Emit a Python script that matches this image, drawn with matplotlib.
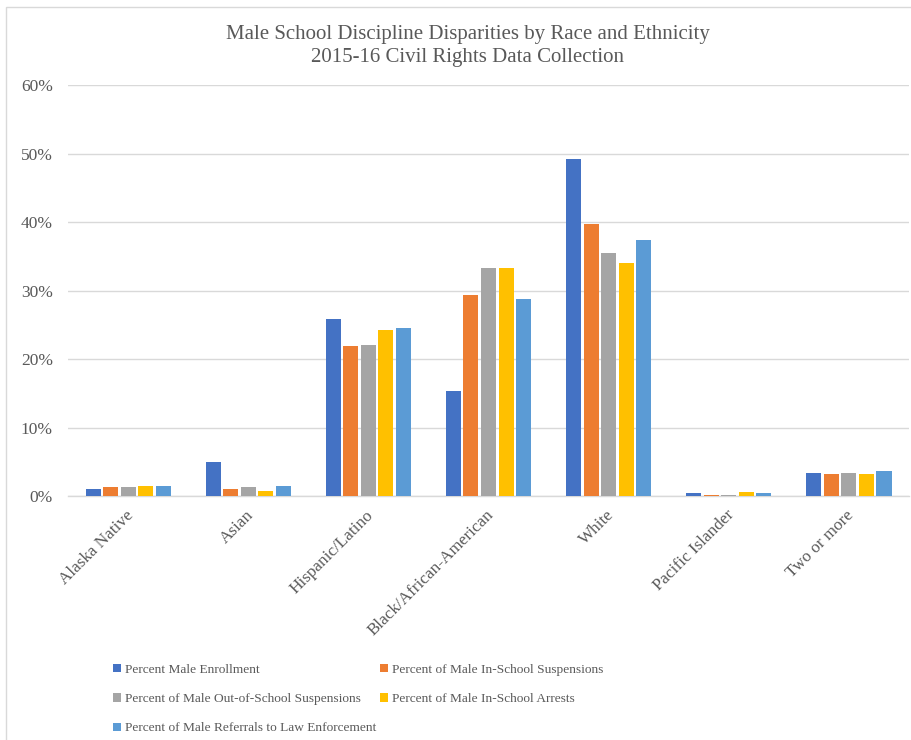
import matplotlib.pyplot as plt
from matplotlib.patches import Rectangle
from matplotlib.ticker import PercentFormatter
from matplotlib.transforms import ScaledTranslation
import numpy as np

# Dados (em %)
categories = ['Alaska Native', 'Asian', 'Hispanic/Latino', 'Black/African-American',
              'White', 'Pacific Islander', 'Two or more']
enrollment = [1.0, 4.9, 25.8, 15.4, 49.2, 0.4, 3.4]
in_school_susp = [1.3, 1.0, 21.9, 29.4, 39.8, 0.2, 3.2]
out_school_susp = [1.3, 1.3, 22.1, 33.3, 35.5, 0.2, 3.4]
arrests = [1.5, 0.8, 24.2, 33.3, 34.0, 0.6, 3.2]
referrals = [1.5, 1.5, 24.5, 28.8, 37.4, 0.4, 3.6]

series_names = ['Percent Male Enrollment',
                'Percent of Male In-School Suspensions',
                'Percent of Male Out-of-School Suspensions',
                'Percent of Male In-School Arrests',
                'Percent of Male Referrals to Law Enforcement']
colors = ['#4472C4', '#ED7D31', '#A5A5A5', '#FFC000', '#5B9BD5']

plt.rcParams['font.family'] = ['Liberation Serif', 'DejaVu Serif']
txt = '#595959'

fig = plt.figure(figsize=(9.12, 7.4), dpi=100)
ax = fig.add_axes([0.0746, 0.3297, 0.9221, 0.555])

# borda da área do gráfico
fig.patches.append(Rectangle((0.007, -0.01), 1.2, 1.0, transform=fig.transFigure,
                             fill=False, edgecolor='#d9d9d9', linewidth=1.0))

x = np.arange(len(categories))
slot = 0.146
bw = 0.125
handles = []
for i, vals in enumerate([enrollment, in_school_susp, out_school_susp, arrests, referrals]):
    b = ax.bar(x + (i - 2) * slot, vals, width=bw, color=colors[i], label=series_names[i], zorder=3)
    handles.append(b)

ax.set_xlim(-0.5, len(categories) - 0.5)
ax.set_ylim(0, 60)
ax.set_yticks(range(0, 61, 10))
ax.yaxis.set_major_formatter(PercentFormatter(decimals=0))
ax.grid(axis='y', color='#d9d9d9', linewidth=1.0, zorder=0)
for s in ['top', 'right', 'left']:
    ax.spines[s].set_visible(False)
ax.spines['bottom'].set_color('#d9d9d9')
ax.spines['bottom'].set_linewidth(1.0)
ax.tick_params(axis='both', length=0, colors=txt)
ax.tick_params(axis='y', pad=11, labelsize=12.5)

ax.set_xticks(x)
ax.set_xticklabels(categories, rotation=45, ha='right', rotation_mode='anchor', color=txt, fontsize=12.3)
ax.tick_params(axis='x', pad=8)
shift = ScaledTranslation(-3 / 100, 0, fig.dpi_scale_trans)
for lab in ax.get_xticklabels():
    lab.set_transform(lab.get_transform() + shift)

fig.text(0.513, 0.953, 'Male School Discipline Disparities by Race and Ethnicity',
         ha='center', va='center', fontsize=15, color=txt)
fig.text(0.513, 0.922, '2015-16 Civil Rights Data Collection',
         ha='center', va='center', fontsize=15, color=txt)

order = [0, 2, 4, 1, 3]
fig.legend([handles[k] for k in order], [series_names[k] for k in order],
           ncol=2, loc='upper left', bbox_to_anchor=(0.124, 0.103), frameon=False,
           fontsize=9.6, handlelength=0.6, handleheight=0.6, handletextpad=0.3,
           columnspacing=0.25, labelspacing=1.3, labelcolor=txt, borderaxespad=0,
           borderpad=0)

fig.savefig('out.png', dpi=100)
